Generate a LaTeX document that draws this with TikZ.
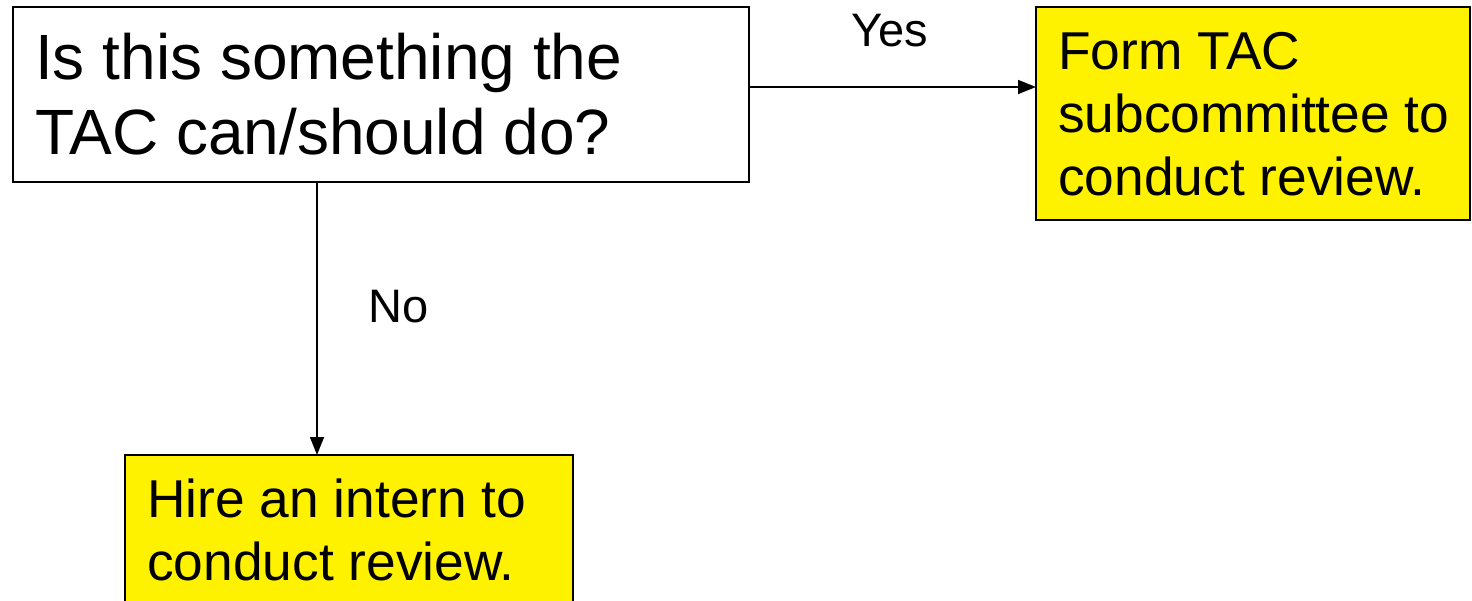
\documentclass[tikz,border=0pt]{standalone}
\usepackage{fontspec}
\setmainfont{Liberation Sans}
\usetikzlibrary{arrows.meta}
\begin{document}
\begin{tikzpicture}[x=1pt,y=-1pt,
  box/.style={draw=black,line width=1.5pt,inner sep=0pt,outer sep=0pt},
  yellowbox/.style={box,fill=yellow},
  bigtxt/.style={anchor=base west,inner sep=0pt,font=\fontsize{64}{74}\selectfont},
  midtxt/.style={anchor=base west,inner sep=0pt,font=\fontsize{53.3}{62}\selectfont},
  lbl/.style={anchor=base,inner sep=0pt,font=\fontsize{47}{52}\selectfont},
  conn/.style={draw=black,line width=1.5pt,-{Triangle[length=18pt,width=14pt]}}]
\useasboundingbox (0,0) rectangle (1472,601);
\node[box,minimum width=736pt,minimum height=175pt,anchor=north west] (q) at (13,7) {};
\node[yellowbox,minimum width=434pt,minimum height=213pt,anchor=north west] (yes) at (1036,7) {};
\node[yellowbox,minimum width=448pt,minimum height=180pt,anchor=north west] (no) at (125,455) {};
\node[bigtxt] (q1) at (35,80) {Is this something the};
\node[bigtxt] (q2) at (35,155) {TAC can/should do?};
\node[midtxt] (y1) at (1058,70) {Form TAC};
\node[midtxt] (y2) at (1058,133) {subcommittee to};
\node[midtxt] (y3) at (1058,196) {conduct review.};
\node[midtxt] (n1) at (147,517) {Hire an intern to};
\node[midtxt] (n2) at (147,580) {conduct review.};
\coordinate (qy) at (q.east |- 0,87);
\coordinate (yy) at (yes.west |- 0,87);
\draw[conn] (qy) -- (yy);
\coordinate (qs) at (317,0 |- q.south);
\coordinate (ns) at (317,0 |- no.north);
\draw[conn] (qs) -- (ns);
\node[lbl] (yeslbl) at (890,47) {Yes};
\node[lbl] (nolbl) at (399,323) {No};
\end{tikzpicture}
\end{document}
